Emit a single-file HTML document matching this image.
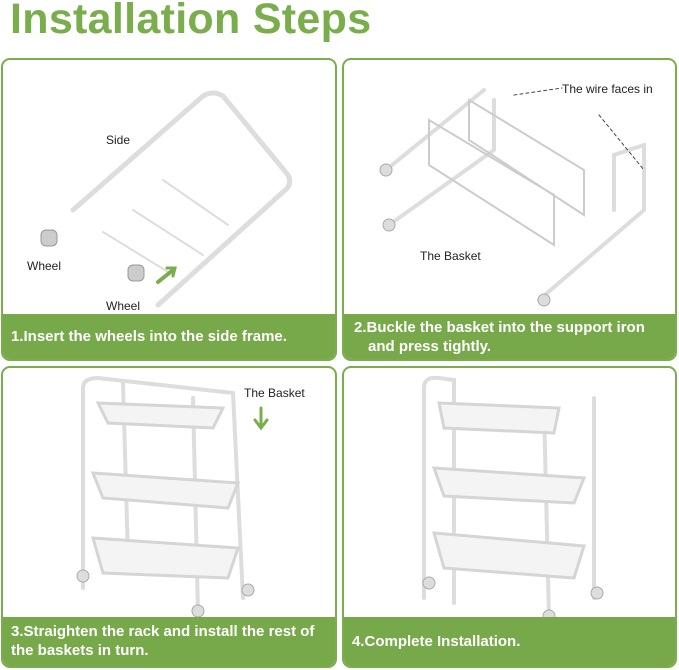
<!DOCTYPE html>
<html><head><meta charset="utf-8"><style>
body{margin:0;width:679px;height:670px;background:#fff;position:relative;overflow:hidden;font-family:"Liberation Sans",sans-serif}
.t{position:absolute;left:10px;top:-5px;font-size:43px;font-weight:bold;color:#7aad4c;letter-spacing:0.3px}
.p{position:absolute;border:2px solid #7aad4c;border-radius:9px;box-sizing:border-box;overflow:hidden;background:#fff}
.bar{position:absolute;left:0;right:0;bottom:0;background:#77a94a;color:#fff;font-weight:bold;font-size:15px;line-height:19px;padding-left:8px;box-sizing:border-box;display:flex;align-items:center;transform-origin:left}
.l{position:absolute;font-size:12px;color:#222}
svg{position:absolute;left:0;top:0}
</style></head><body>
<div class="t">Installation Steps</div>

<div class="p" style="left:1px;top:58px;width:336px;height:303px">
<svg width="336" height="300" fill="none" stroke="#ddd" stroke-width="5" stroke-linecap="round">
<path d="M70 150 L200 36 Q210 30 220 36 L285 115 Q290 125 280 132 L155 245"/>
<path d="M160 120 L225 165 M130 150 L200 195 M100 172 L170 215" stroke-width="2"/>
<rect x="38" y="170" width="16" height="16" rx="5" fill="#ccc" stroke="#999" stroke-width="1"/>
<rect x="125" y="205" width="16" height="16" rx="5" fill="#ccc" stroke="#999" stroke-width="1"/>
<path d="M155 222 L170 210" stroke="#7aad4c" stroke-width="4"/>
<path d="M164 208 L172 208 L170 216" stroke="#7aad4c" stroke-width="3"/>
</svg>
<div class="l" style="left:103px;top:73px">Side</div>
<div class="l" style="left:24px;top:199px">Wheel</div>
<div class="l" style="left:103px;top:239px">Wheel</div>
<div class="bar" style="height:45px">1.Insert the wheels into the side frame.</div>
</div>

<div class="p" style="left:342px;top:58px;width:335px;height:303px">
<svg width="335" height="300" fill="none" stroke="#ddd" stroke-width="4" stroke-linecap="round">
<path d="M42 110 L140 30 M45 165 L150 90 L150 40 M195 240 L300 150 L300 85 L270 95 L270 150"/>
<path d="M85 105 L210 185 L210 135 L85 60 Z M125 80 L240 155 L240 110 L125 40 Z" stroke-width="2" stroke="#ccc"/>
<path d="M170 35 L218 28 M255 55 L300 110" stroke="#444" stroke-width="1" stroke-dasharray="3 3"/>
<circle cx="42" cy="110" r="6" fill="#ddd" stroke="#aaa" stroke-width="1"/>
<circle cx="45" cy="165" r="6" fill="#ddd" stroke="#aaa" stroke-width="1"/>
<circle cx="200" cy="240" r="6" fill="#ddd" stroke="#aaa" stroke-width="1"/>
</svg>
<div class="l" style="left:218px;top:22px">The wire faces in</div>
<div class="l" style="left:76px;top:189px">The Basket</div>
<div class="bar" style="height:45px;padding-left:24px;display:block;padding-top:4px;text-indent:-14px">2.Buckle the basket into the support iron<br>and press tightly.</div>
</div>

<div class="p" style="left:1px;top:366px;width:336px;height:302px">
<svg width="336" height="300" fill="none" stroke="#ddd" stroke-width="4" stroke-linecap="round">
<path d="M80 220 L80 20 Q80 10 95 10 L230 25 M230 25 L240 230 M190 30 L195 245 M120 15 L125 190"/>
<path d="M95 35 L220 40 L210 60 L105 55 Z M90 105 L235 115 L225 140 L100 130 Z M90 170 L235 180 L225 210 L100 205 Z" stroke-width="3" stroke="#d5d5d5" fill="#f4f4f4"/>
<circle cx="80" cy="208" r="6" fill="#ddd" stroke="#aaa" stroke-width="1"/>
<circle cx="195" cy="243" r="6" fill="#ddd" stroke="#aaa" stroke-width="1"/>
<circle cx="245" cy="222" r="6" fill="#ddd" stroke="#aaa" stroke-width="1"/>
<path d="M258 40 L258 58 M252 52 L258 60 L264 52" stroke="#7aad4c" stroke-width="3"/>
</svg>
<div class="l" style="left:241px;top:18px">The Basket</div>
<div class="bar" style="height:49px;display:block;padding-top:5px">3.Straighten the rack and install the rest of<br>the baskets in turn.</div>
</div>

<div class="p" style="left:342px;top:366px;width:335px;height:302px">
<svg width="335" height="300" fill="none" stroke="#ddd" stroke-width="4" stroke-linecap="round">
<path d="M80 230 L80 20 Q80 8 95 10 L110 12 L110 235 M250 30 L250 230 M200 40 L205 250"/>
<path d="M95 35 L215 40 L210 65 L100 60 Z M90 100 L240 110 L230 135 L100 128 Z M90 165 L240 178 L230 210 L100 200 Z" stroke-width="3" stroke="#d5d5d5" fill="#f4f4f4"/>
<circle cx="85" cy="215" r="6" fill="#ddd" stroke="#aaa" stroke-width="1"/>
<circle cx="205" cy="248" r="6" fill="#ddd" stroke="#aaa" stroke-width="1"/>
<circle cx="253" cy="225" r="6" fill="#ddd" stroke="#aaa" stroke-width="1"/>
</svg>
<div class="bar" style="height:49px">4.Complete Installation.</div>
</div>
</body></html>
